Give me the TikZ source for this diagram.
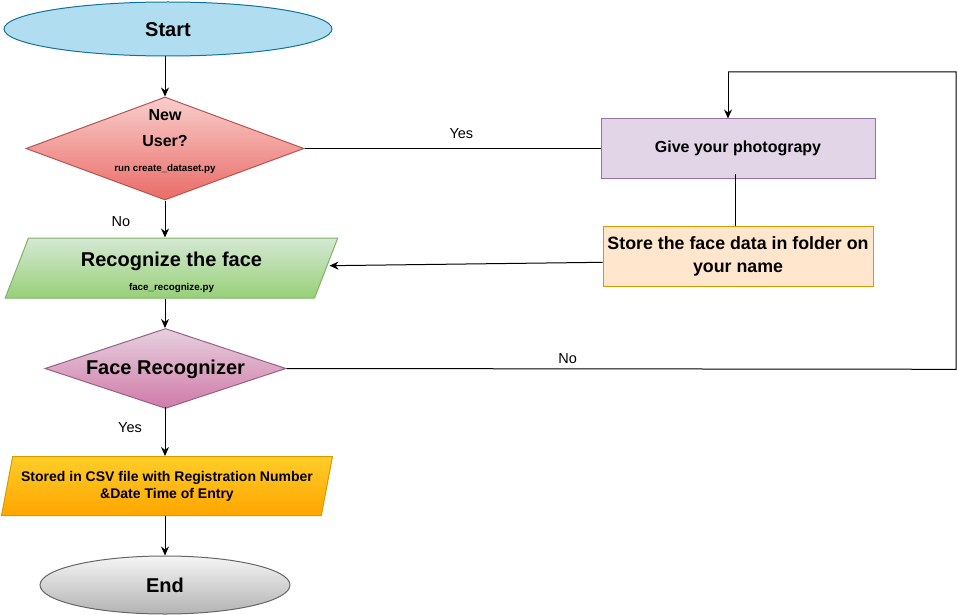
\documentclass[tikz,border=0pt]{standalone}
\usepackage{fontspec}
\setmainfont{Liberation Sans}
\usetikzlibrary{shapes.geometric,arrows.meta}
\definecolor{startfill}{HTML}{B1DDF0}
\definecolor{startline}{HTML}{10739E}
\definecolor{redtop}{HTML}{F8CECC}
\definecolor{redbot}{HTML}{EA6B66}
\definecolor{redline}{HTML}{B85450}
\definecolor{greentop}{HTML}{D5E8D4}
\definecolor{greenbot}{HTML}{97D077}
\definecolor{greenline}{HTML}{82B366}
\definecolor{pinktop}{HTML}{E6D0DE}
\definecolor{pinkbot}{HTML}{D07AA8}
\definecolor{pinkline}{HTML}{996185}
\definecolor{orgtop}{HTML}{FFCD28}
\definecolor{orgbot}{HTML}{FFA500}
\definecolor{orgline}{HTML}{D79B00}
\definecolor{purfill}{HTML}{E1D5E7}
\definecolor{purline}{HTML}{9673A6}
\definecolor{peachfill}{HTML}{FFE6CC}
\definecolor{greytop}{HTML}{F5F5F5}
\definecolor{greybot}{HTML}{B3B3B3}
\definecolor{greyline}{HTML}{666666}
\tikzset{
  box/.style={draw, line width=1pt, inner sep=0pt, align=center},
  para/.style={trapezium, trapezium stretches=true, trapezium left angle=72.5, trapezium right angle=107.5, draw, line width=1pt, inner sep=2pt, align=center},
  conn/.style={line width=1pt, draw=black},
  arr/.style={conn, -{Stealth[length=9pt,width=8pt]}},
  lbl/.style={font=\fontsize{14.5}{17}\selectfont},
  bigt/.style={font=\bfseries\fontsize{20}{24}\selectfont},
}
\begin{document}
\begin{tikzpicture}[x=1pt,y=-1pt]
\useasboundingbox (0,0) rectangle (958,615);
% nodes
\node[box, ellipse, fill=startfill, draw=startline, minimum width=328pt, minimum height=54pt] (start) at (168,29) {};
\node[bigt, inner sep=0pt] (starttext) at (168,30) {Start};
\node[box, diamond, top color=redtop, bottom color=redbot, draw=redline, minimum width=278pt, minimum height=103pt] (nu) at (165,148.5) {};
\node[align=center, inner sep=0pt, font=\bfseries] (nutext) at (165,141.5) {\fontsize{16}{19}\selectfont New\\[14pt]\fontsize{16}{19}\selectfont User?\\[13pt]\fontsize{9.8}{12}\selectfont run create\_dataset.py};
\node[para, top color=greentop, bottom color=greenbot, draw=greenline, minimum width=333pt, minimum height=60pt] (rec) at (171.5,268) {\parbox{200pt}{\vspace*{8pt}\centering\bfseries\fontsize{20}{24}\selectfont Recognize the face\\[12pt]\fontsize{9.8}{12}\selectfont face\_recognize.py}};
\node[box, diamond, top color=pinktop, bottom color=pinkbot, draw=pinkline, minimum width=241pt, minimum height=80pt] (fr) at (165.5,368.5) {};
\node[bigt, inner sep=0pt] (frtext) at (165.5,369.5) {Face Recognizer};
\node[para, top color=orgtop, bottom color=orgbot, draw=orgline, minimum width=332pt, minimum height=59pt, font=\bfseries\fontsize{14}{17}\selectfont] (csv) at (167,486) {Stored in CSV file with Registration Number\\\&Date Time of Entry};
\node[box, ellipse, top color=greytop, bottom color=greybot, draw=greyline, minimum width=250pt, minimum height=58pt, bigt] (end) at (165,585) {End};
\node[box, fill=purfill, draw=purline, minimum width=274pt, minimum height=59pt, font=\bfseries\fontsize{16}{19}\selectfont] (give) at (738,148.5) {Give your photograpy};
\node[box, fill=peachfill, draw=orgline, minimum width=270pt, minimum height=60pt, font=\bfseries\fontsize{17.8}{23}\selectfont] (store) at (738,256) {Store the face data in folder on\\your name};
\coordinate (c1) at (956,369.3);
\coordinate (c2) at (956,72);
\coordinate (c3) at (728,72);
% connectors
\draw[arr] (start.south -| 165,0) -- (nu.north);
\draw[conn] (nu.east) -- node[lbl, above=6pt, pos=0.53] (yes1) {Yes} (give.west);
\draw[conn] ([yshift=5pt]give.south -| 735,0) -- (store.north -| 735,0);
\draw[arr] (store.west |- 0,262.3) -- (329.5,265.7) coordinate (recin);
\draw[arr] (nu.south) -- (rec.north -| 165,0);
\node[lbl] (no1) at (121,222) {No};
\draw[arr] (rec.south -| 165,0) -- (fr.north -| 165,0);
\draw[conn] (fr.east) -- node[lbl, above=1pt, pos=0.42] (no2) {No} (c1) -- (c2) -- (c3);
\draw[arr] (c3) -- (give.north -| 728,0);
\draw[arr] ([yshift=2pt]fr.south -| 165,0) -- (csv.north -| 165,0);
\node[lbl] (yes2) at (130,428) {Yes};
\draw[arr] (csv.south -| 165,0) -- (end.north);
\end{tikzpicture}
\end{document}
